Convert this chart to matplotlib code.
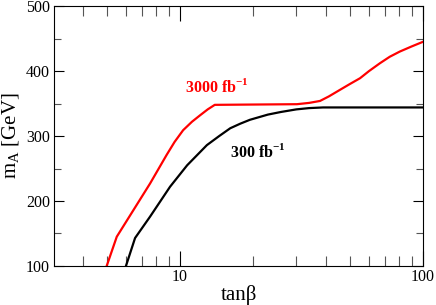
import matplotlib
matplotlib.use("Agg")
import matplotlib.pyplot as plt
from matplotlib.ticker import FixedLocator, NullFormatter, FixedFormatter

plt.rcParams['font.family'] = ['Liberation Serif', 'DejaVu Serif']
plt.rcParams['mathtext.fontset'] = 'custom'
plt.rcParams['mathtext.rm'] = 'Liberation Serif'
plt.rcParams['mathtext.bf'] = 'Liberation Serif:bold'

# 3000 fb^-1 curve
tb_3000 = [4.99, 5.49, 6.43, 7.53, 8.81, 9.5, 10.3, 11.2, 12.1, 13.0, 13.9,
           30.3, 34.0, 37.7, 41.0, 45.5, 50.0, 55.1, 60.0, 66.5, 73.0, 80.3, 90.0, 100]
ma_3000 = [100, 145, 186, 227, 271, 291, 309, 322, 332, 341, 348,
           349, 351, 354, 361, 371, 380, 389, 400, 412, 422, 430, 438, 445]

# 300 fb^-1 curve
tb_300 = [5.99, 6.53, 7.53, 9.1, 10.7, 12.9, 14.5, 16.1, 17.7, 19.4, 23.0,
          26.0, 30.1, 34.0, 38.8, 100]
ma_300 = [100, 143, 176, 222, 255, 286, 300, 312, 319, 325, 333,
          337, 341, 343, 344, 344]

fig = plt.figure(figsize=(4.36, 3.05), dpi=100)
ax = fig.add_axes([0.124, 0.128, 0.846, 0.852])

ax.plot(tb_3000, ma_3000, color="red", lw=1.6)
ax.plot(tb_300, ma_300, color="black", lw=1.6)

ax.set_xscale("log")
ax.set_xlim(3.03, 100)
ax.set_ylim(100, 500)

ax.xaxis.set_major_locator(FixedLocator([10, 100]))
ax.xaxis.set_major_formatter(FixedFormatter(["10", "100"]))
ax.xaxis.set_minor_locator(FixedLocator([4, 5, 6, 7, 8, 9, 20, 30, 40, 50, 60, 70, 80, 90]))
ax.xaxis.set_minor_formatter(NullFormatter())
ax.set_yticks([100, 200, 300, 400, 500])
ax.set_yticks([150, 250, 350, 450], minor=True)

ax.tick_params(axis="x", which="major", direction="in", length=10.5, width=0.8,
               top=True, labelsize=11.5, pad=2)
ax.tick_params(axis="x", which="minor", direction="in", length=7.5, width=0.8,
               top=True, color="#555555")
ax.tick_params(axis="y", which="major", direction="in", length=7.5, width=0.8,
               right=True, labelsize=11.5, pad=3)
ax.tick_params(axis="y", which="minor", direction="in", length=5, width=0.8,
               right=True, color="#555555")

ax.set_xlabel("tanβ", fontsize=15, labelpad=0)
ax.set_ylabel(r"m$_\mathrm{A}$ [GeV]", fontsize=15, labelpad=3)

ax.text(10.5, 375, r"3000 fb$^{\mathbf{-1}}$", color="red", fontsize=11.5,
        fontweight="bold", va="center", ha="left")
ax.text(16.1, 275, r"300 fb$^{\mathbf{-1}}$", color="black", fontsize=11.5,
        fontweight="bold", va="center", ha="left")

fig.savefig("out.png", dpi=100)
